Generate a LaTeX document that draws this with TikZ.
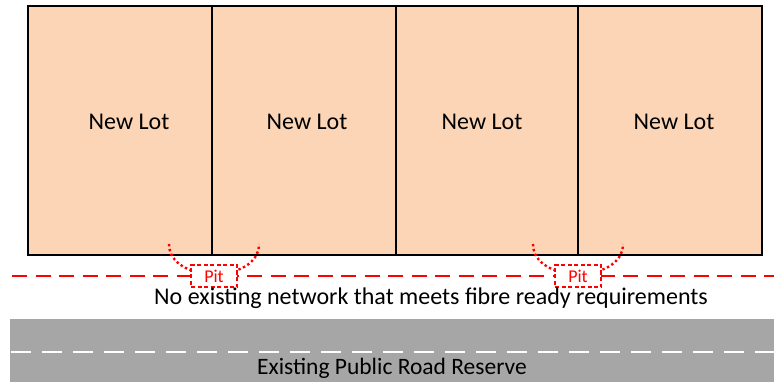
\documentclass[tikz,border=0pt]{standalone}
\usepackage{fontspec}
\setmainfont{Carlito}
\usetikzlibrary{calc}
\definecolor{lotfill}{RGB}{251,213,181}
\definecolor{roadgrey}{RGB}{166,166,166}
\definecolor{pitred}{RGB}{255,0,0}
\tikzset{
  lot/.style={fill=lotfill, draw=black, line width=1.6pt},
  lottext/.style={font=\fontsize{24}{28}\selectfont},
  fibre/.style={pitred, line width=2pt, dash pattern=on 15pt off 8.5pt},
  pitarc/.style={pitred, line width=2.4pt, dash pattern=on 2.4pt off 2.6pt},
  pitbox/.style={draw=pitred, fill=white, line width=2.4pt, dash pattern=on 4pt off 2.5pt,
    minimum width=46pt, minimum height=22pt, inner sep=0pt, text=pitred,
    font=\fontsize{18}{20}\selectfont},
  road/.style={fill=roadgrey, draw=none},
  roadline/.style={white, line width=1.5pt, dash pattern=on 20pt off 11pt}
}
\begin{document}
\begin{tikzpicture}[x=1pt,y=-1pt]
			\useasboundingbox (0,0) rectangle (774,382);
			
			%%%%% LOTS %%%%%
			\foreach \xa/\xb/\tx/\nm in {28/212/129/a, 212/396/307/b, 396/578/482/c, 578/762/674/d}{
				\draw[lot] (\xa, 6) rectangle (\xb, 255);
				\node[lottext] (lot\nm) at (\tx, 122) {New Lot};
			}
			
			%%%%% FIBRE LINE %%%%%
			\draw[fibre] (12, 276.5) -- (774, 276.5);
			
			%%%%% PITS %%%%%
			\foreach \cx/\nm in {214/one, 578/two}{
				\draw[pitarc] (\cx-45, 244) .. controls (\cx-45, 284) and (\cx+45, 284) .. (\cx+45, 244);
				\node[pitbox] (pit\nm) at (\cx, 276) {Pit};
			}
			
			\node[font=\fontsize{24}{28}\selectfont] (nonet) at (431, 298) {No existing network that meets fibre ready requirements};
			
			%%%%% ROAD %%%%%
			\draw[road] (10, 319) rectangle (774, 382);
			\draw[roadline] (11, 352) -- (774, 352);
			\node[font=\fontsize{23.5}{28}\selectfont] (roadres) at (392, 368) {Existing Public Road Reserve};
			
		\end{tikzpicture}
\end{document}
